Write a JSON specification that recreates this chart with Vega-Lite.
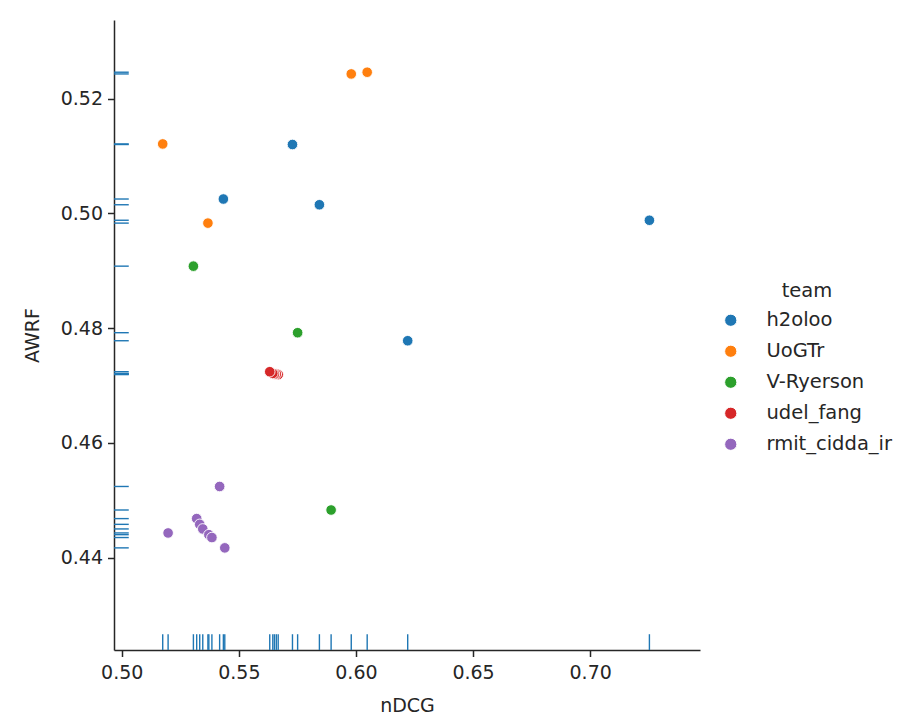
{
  "$schema": "https://vega.github.io/schema/vega-lite/v6.json",
  "autosize": {"type": "none"},
  "padding": {"left": 114, "top": 20, "right": 205, "bottom": 73},
  "width": 586,
  "height": 630,
  "background": "white",
  "config": {
    "font": "DejaVu Sans",
    "view": {"stroke": null},
    "axis": {
      "labelFont": "DejaVu Sans",
      "titleFont": "DejaVu Sans",
      "labelFontSize": 19,
      "titleFontSize": 19,
      "titleFontWeight": "normal",
      "labelColor": "#262626",
      "titleColor": "#262626",
      "domainColor": "#262626",
      "tickColor": "#262626",
      "domainWidth": 1.5,
      "tickWidth": 1.5,
      "tickSize": 6.5,
      "grid": false
    },
    "legend": {
      "labelFont": "DejaVu Sans",
      "titleFont": "DejaVu Sans",
      "labelFontSize": 19.5,
      "titleFontSize": 19.5,
      "titleFontWeight": "normal",
      "labelColor": "#262626",
      "titleColor": "#262626"
    }
  },
  "data": {
    "values": [
      {"team": "h2oloo", "nDCG": 0.5729, "AWRF": 0.5120},
      {"team": "h2oloo", "nDCG": 0.5434, "AWRF": 0.5025},
      {"team": "h2oloo", "nDCG": 0.5844, "AWRF": 0.5015},
      {"team": "h2oloo", "nDCG": 0.6221, "AWRF": 0.4778},
      {"team": "h2oloo", "nDCG": 0.7253, "AWRF": 0.4988},
      {"team": "UoGTr", "nDCG": 0.5980, "AWRF": 0.5243},
      {"team": "UoGTr", "nDCG": 0.6048, "AWRF": 0.5246},
      {"team": "UoGTr", "nDCG": 0.5175, "AWRF": 0.5121},
      {"team": "UoGTr", "nDCG": 0.5368, "AWRF": 0.4983},
      {"team": "V-Ryerson", "nDCG": 0.5306, "AWRF": 0.4908},
      {"team": "V-Ryerson", "nDCG": 0.5751, "AWRF": 0.4792},
      {"team": "V-Ryerson", "nDCG": 0.5894, "AWRF": 0.4483},
      {"team": "udel_fang", "nDCG": 0.5668, "AWRF": 0.4719},
      {"team": "udel_fang", "nDCG": 0.5660, "AWRF": 0.4720},
      {"team": "udel_fang", "nDCG": 0.5652, "AWRF": 0.4720},
      {"team": "udel_fang", "nDCG": 0.5645, "AWRF": 0.4721},
      {"team": "udel_fang", "nDCG": 0.5632, "AWRF": 0.4724},
      {"team": "rmit_cidda_ir", "nDCG": 0.5198, "AWRF": 0.4443},
      {"team": "rmit_cidda_ir", "nDCG": 0.5320, "AWRF": 0.4468},
      {"team": "rmit_cidda_ir", "nDCG": 0.5333, "AWRF": 0.4458},
      {"team": "rmit_cidda_ir", "nDCG": 0.5346, "AWRF": 0.4450},
      {"team": "rmit_cidda_ir", "nDCG": 0.5372, "AWRF": 0.4440},
      {"team": "rmit_cidda_ir", "nDCG": 0.5385, "AWRF": 0.4435},
      {"team": "rmit_cidda_ir", "nDCG": 0.5418, "AWRF": 0.4524},
      {"team": "rmit_cidda_ir", "nDCG": 0.5440, "AWRF": 0.4417}
    ]
  },
  "layer": [
    {
      "mark": {"type": "rule", "color": "#1f77b4", "strokeWidth": 1.4},
      "encoding": {
        "x": {"field": "nDCG", "type": "quantitative"},
        "y": {"datum": 0.4239, "type": "quantitative"},
        "y2": {"datum": 0.42665}
      }
    },
    {
      "mark": {"type": "rule", "color": "#1f77b4", "strokeWidth": 1.4},
      "encoding": {
        "y": {"field": "AWRF", "type": "quantitative"},
        "x": {"datum": 0.4967, "type": "quantitative"},
        "x2": {"datum": 0.5030}
      }
    },
    {
      "mark": {"type": "point", "filled": true, "opacity": 1, "stroke": "white", "strokeWidth": 0.9, "size": 112},
      "encoding": {
        "x": {
          "field": "nDCG", "type": "quantitative", "title": "nDCG",
          "scale": {"domain": [0.4967, 0.7469], "nice": false, "zero": false},
          "axis": {"values": [0.5, 0.55, 0.6, 0.65, 0.7], "format": ".2f", "labelPadding": 7, "titlePadding": 14}
        },
        "y": {
          "field": "AWRF", "type": "quantitative", "title": "AWRF",
          "scale": {"domain": [0.4239, 0.5337], "nice": false, "zero": false},
          "axis": {"values": [0.44, 0.46, 0.48, 0.5, 0.52], "format": ".2f", "labelPadding": 5, "titlePadding": 18}
        },
        "color": {
          "field": "team", "type": "nominal", "title": "team",
          "scale": {
            "domain": ["h2oloo", "UoGTr", "V-Ryerson", "udel_fang", "rmit_cidda_ir"],
            "range": ["#1f77b4", "#ff7f0e", "#2ca02c", "#d62728", "#9467bd"]
          },
          "legend": {
            "orient": "none",
            "legendX": 607,
            "legendY": 262,
            "symbolType": "circle",
            "symbolSize": 150,
            "symbolStrokeColor": "white",
            "symbolStrokeWidth": 1,
            "rowPadding": 10,
            "labelOffset": 26,
            "titleAnchor": "middle",
            "titlePadding": 9
          }
        }
      }
    }
  ]
}
